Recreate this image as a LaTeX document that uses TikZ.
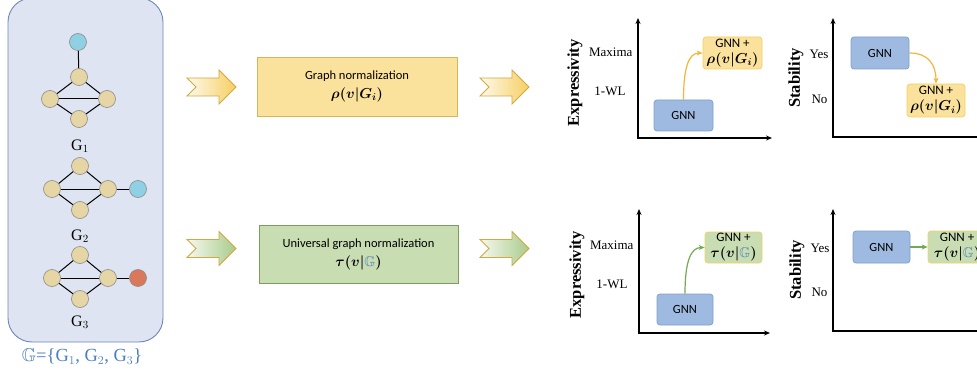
\documentclass[tikz,border=0pt]{standalone}
\usepackage{amsmath,amssymb,bm}
\usepackage{fontspec}
\setmainfont{Liberation Serif}
\newfontfamily\calib{Carlito}
\usetikzlibrary{arrows.meta}

\definecolor{panelfill}{HTML}{DEE4F1}
\definecolor{paneldraw}{HTML}{6F87B8}
\definecolor{vtan}{HTML}{E6D6A6}
\definecolor{vedge}{HTML}{8C8C84}
\definecolor{vblue}{HTML}{8FD0E5}
\definecolor{vred}{HTML}{D9785A}
\definecolor{setblue}{HTML}{4A7EC2}
\definecolor{normyellow}{HTML}{FAE29C}
\definecolor{normyedge}{HTML}{D7B55A}
\definecolor{normgreen}{HTML}{C9DDB2}
\definecolor{normgedge}{HTML}{7E9E60}
\definecolor{chevyellow}{HTML}{F6CF62}
\definecolor{chevgreen}{HTML}{A9CB8A}
\definecolor{chevedge}{HTML}{D3A842}
\definecolor{gnnfill}{HTML}{9EBAE0}
\definecolor{gnnedge}{HTML}{7F9ECC}
\definecolor{arrowy}{HTML}{F3B53A}
\definecolor{arrowg}{HTML}{74A852}

\newcommand\rhoterm{{\fontsize{14}{16}\selectfont$\bm{\rho(v|G_i)}$}}
\newcommand\tauterm{{\fontsize{14}{16}\selectfont$\bm{\tau(v|}\textcolor{setblue}{\mathbb{G}}\bm{)}$}}

\tikzset{
  vert/.style={circle, draw=vedge, fill=vtan, minimum size=17pt, inner sep=0pt, line width=0.6pt},
  gedge/.style={line width=1pt, black},
  glabel/.style={font=\fontsize{16}{18}\selectfont},
  normbox/.style={draw, line width=0.8pt, align=center, inner sep=0pt, font=\calib\fontsize{12.5}{19}\selectfont},
  gnnbox/.style={rounded corners=3pt, fill=gnnfill, draw=gnnedge, line width=0.7pt, inner sep=0pt,
    minimum width=58pt, minimum height=31pt, font=\calib\fontsize{12.5}{14}\selectfont},
  plusbox/.style={gnnbox, align=center, font=\calib\fontsize{13}{16}\selectfont},
  axis/.style={line width=1.3pt, {Stealth[length=6pt,width=5pt]}-{Stealth[length=6pt,width=5pt]}},
  ylab/.style={rotate=90, font=\bfseries\fontsize{16.5}{18}\selectfont},
  tick/.style={font=\fontsize{13}{15}\selectfont},
  curvy/.style={line width=1.2pt, -{Stealth[length=6pt,width=5pt]}}
}

% chevron arrow: left x, centre y, colour
\newcommand\chevron[3]{%
  \shadedraw[left color=#3!12, right color=#3, draw=chevedge, line width=0.8pt]
    (#1,#2) ++(0,-9) -- ++(32,0) -- ++(0,-8) -- ++(17,17) -- ++(-17,17)
    -- ++(0,-8) -- ++(-32,0) -- ++(9,-9) -- cycle;}

\begin{document}
\begin{tikzpicture}[x=1pt,y=-1pt]
\clip (0,0) rectangle (977,377);

% graph collection
\draw[fill=panelfill, draw=paneldraw, line width=0.9pt, rounded corners=24pt] (8,-2) rectangle (163,342);

\node[vert, fill=vblue] (p1) at (78,42) {};
\node[vert] (t1) at (79,77) {};
\node[vert] (l1) at (50,99) {};
\node[vert] (r1) at (107,99) {};
\node[vert] (b1) at (79,119) {};
\node[glabel] (n1) at (80,146) {$\mathrm{G}_1$};

\node[vert] (t2) at (80,166) {};
\node[vert] (l2) at (52,189) {};
\node[vert] (r2) at (108,189) {};
\node[vert] (b2) at (80,210) {};
\node[vert, fill=vblue] (p2) at (138,189) {};
\node[glabel] (n2) at (80,236) {$\mathrm{G}_2$};

\node[vert] (t3) at (80,255) {};
\node[vert] (l3) at (52,278) {};
\node[vert] (r3) at (108,278) {};
\node[vert] (b3) at (80,299) {};
\node[vert, fill=vred] (p3) at (138,278) {};
\node[glabel] (n3) at (80,322) {$\mathrm{G}_3$};

\draw[gedge] (p1) -- (t1);
\draw[gedge] (r2) -- (p2);
\draw[gedge] (r3) -- (p3);
\foreach \i in {1,2,3} {
  \draw[gedge] (l\i) -- (t\i);
  \draw[gedge] (t\i) -- (r\i);
  \draw[gedge] (r\i) -- (b\i);
  \draw[gedge] (b\i) -- (l\i);
  \draw[gedge] (l\i) -- (r\i);
}

\node[font=\fontsize{18.5}{20}\selectfont, text=setblue] (gset) at (82,357)
  {$\mathbb{G}$=\{G$_1$, G$_2$, G$_3$\}};

% normalization row
\chevron{187}{87}{chevyellow}
\node[normbox, fill=normyellow, draw=normyedge, minimum width=200pt, minimum height=59pt] (gnorm) at (357,86.5)
  {Graph normalization\\ \rhoterm};
\chevron{480}{87}{chevyellow}

\chevron{187}{248.5}{chevgreen}
\node[normbox, fill=normgreen, draw=normgedge, minimum width=199pt, minimum height=58pt] (unorm) at (358.5,254)
  {Universal graph normalization\\ \tauterm};
\chevron{480}{248.5}{chevgreen}

% expressivity, graph normalization
\draw[axis] (638,18) |- (772,138);
\node[ylab] (ex1) at (575,83) {Expressivity};
\node[tick, anchor=east] (mx1) at (636,52) {Maxima};
\node[tick, anchor=east] (wl1) at (629,91) {1-WL};
\node[gnnbox, minimum width=59pt] (gnnE1) at (683.5,115.5) {GNN};
\node[plusbox, fill=normyellow, draw=chevyellow, minimum width=59pt, minimum height=32pt] (plusE1) at (732.5,53)
  {GNN +\\ \rhoterm};
\draw[curvy, arrowy] (gnnE1.north) .. controls +(0,-32) and +(-14,0) .. (plusE1.west);

% stability, graph normalization
\draw[axis] (833,18) |- (990,137);
\node[ylab] (st1) at (796,78) {Stability};
\node[tick, anchor=west] (ys1) at (806,54) {Yes};
\node[tick, anchor=west] (no1) at (808,99) {No};
\node[gnnbox, minimum height=32pt] (gnnS1) at (880,53) {GNN};
\node[plusbox, fill=normyellow, draw=chevyellow, minimum height=33pt] (plusS1) at (936,100.5)
  {GNN +\\ \rhoterm};
\draw[curvy, arrowy] (gnnS1.east) .. controls +(20,0) and +(0,-18) .. (plusS1.north);

% expressivity, universal normalization
\draw[axis] (639,209) |- (770,333);
\node[ylab] (ex2) at (577,275) {Expressivity};
\node[tick, anchor=east] (mx2) at (637,245) {Maxima};
\node[tick, anchor=east] (wl2) at (631,284) {1-WL};
\node[gnnbox, minimum width=56pt] (gnnE2) at (685,309.5) {GNN};
\node[plusbox, fill=normgreen, draw=chevyellow, minimum width=57pt] (plusE2) at (733.5,247.5)
  {GNN +\\ \tauterm};
\draw[curvy, arrowg] (gnnE2.north) .. controls +(0,-32) and +(-14,0) .. (plusE2.west);

% stability, universal normalization
\draw[axis] (833,209) |- (990,331);
\node[ylab] (st2) at (797,270) {Stability};
\node[tick, anchor=west] (ys2) at (807,248) {Yes};
\node[tick, anchor=west] (no2) at (808,292) {No};
\node[gnnbox, minimum width=57pt, minimum height=32pt] (gnnS2) at (881.5,247) {GNN};
\node[plusbox, fill=normgreen, draw=chevyellow, minimum height=32pt] (plusS2) at (957,247)
  {GNN +\\ \tauterm};
\draw[curvy, arrowg] (gnnS2) -- (plusS2);
\end{tikzpicture}
\end{document}
